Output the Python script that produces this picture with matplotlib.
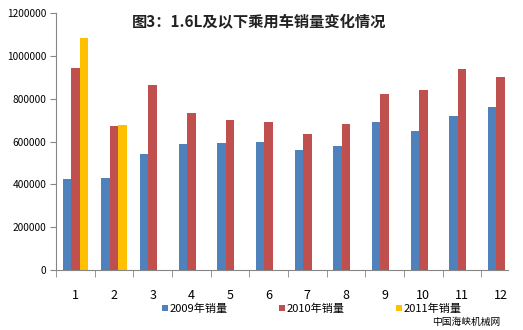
import matplotlib.pyplot as plt
import numpy as np

plt.rcParams['font.family'] = ['Noto Sans CJK SC', 'DejaVu Sans']

months = [str(m) for m in range(1, 13)]
sales_2009 = [423000, 431000, 541000, 588000, 595000, 600000, 561000, 577000, 692000, 651000, 718000, 763000]
sales_2010 = [941000, 671000, 866000, 731000, 702000, 692000, 637000, 680000, 820000, 839000, 938000, 902000]
sales_2011 = [1081000, 677000]

series = [
    ("2009年销量", sales_2009, "#4F81BD"),
    ("2010年销量", sales_2010, "#C0504D"),
    ("2011年销量", sales_2011, "#FFC000"),
]

fig = plt.figure(figsize=(5.23, 3.3), dpi=100)
ax = fig.add_axes([56 / 523, 1 - 270 / 330, 464 / 523, 257 / 330])

x = np.arange(1, 13)
width = 0.22
for i, (name, vals, color) in enumerate(series):
    ax.bar(x[:len(vals)] + (i - 1) * width, vals, width, color=color, label=name)

ax.set_xlim(0.5, 12.5)
ax.set_ylim(0, 1200000)
ax.set_yticks(np.arange(0, 1200001, 200000))
ax.set_yticklabels([str(v) for v in range(0, 1200001, 200000)], fontsize=7.3)
ax.set_xticks(x)
ax.set_xticklabels(months, fontsize=9)
ax.set_xticks(np.arange(0.5, 12.0, 1), minor=True)
ax.tick_params(axis='x', which='major', length=0, pad=14)
ax.tick_params(axis='x', which='minor', length=5, color='#868686')
ax.tick_params(axis='y', length=4, color='#868686', pad=3)

for s in ['top', 'right']:
    ax.spines[s].set_visible(False)
for s in ['left', 'bottom']:
    ax.spines[s].set_color('#868686')
ax.spines['bottom'].set_bounds(0.5, 12.2)

fig.text(259 / 523, 1 - 22 / 330, "图3：1.6L及以下乘用车销量变化情况", fontsize=11,
         fontweight='bold', ha='center', va='center', color='#222222')

fig.legend(loc='center', bbox_to_anchor=(312 / 523, 1 - 309 / 330), ncol=3, frameon=False,
           fontsize=8, handlelength=0.5, handleheight=0.5, handletextpad=0.2,
           columnspacing=4.6, borderpad=0)

fig.text(500 / 523, 1 - 322 / 330, "中国海峡机械网", fontsize=7, ha='right', va='center')

fig.savefig("out.png", dpi=100)
